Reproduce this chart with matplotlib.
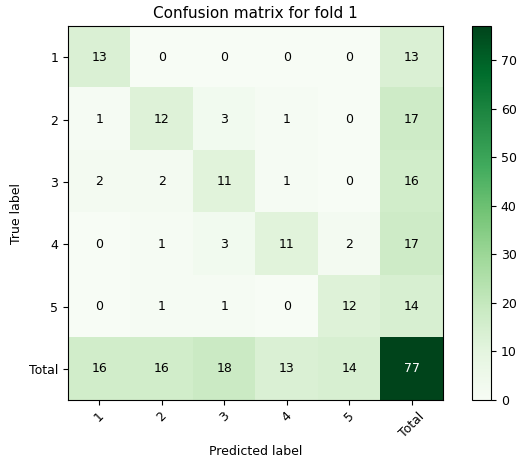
import matplotlib
matplotlib.use('Agg')
import matplotlib.pyplot as plt
import numpy as np

# Matriz de confusão do fold 1 (com linha/coluna de totais)
classes = ['1', '2', '3', '4', '5', 'Total']
cm = np.array([
    [13, 0, 0, 0, 0, 13],
    [1, 12, 3, 1, 0, 17],
    [2, 2, 11, 1, 0, 16],
    [0, 1, 3, 11, 2, 17],
    [0, 1, 1, 0, 12, 14],
    [16, 16, 18, 13, 14, 77],
])
titulo = 'Confusion matrix for fold 1'

fig = plt.figure(figsize=(5.17, 4.63), dpi=100)
ax = fig.add_axes([0.1315, 0.136, 0.7253, 0.8078])
cax = fig.add_axes([0.913, 0.136, 0.0368, 0.8078])

im = ax.imshow(cm, interpolation='nearest', cmap=plt.cm.Greens, aspect='auto')
ax.set_title(titulo, fontsize=11)
cb = fig.colorbar(im, cax=cax)
cb.set_ticks(np.arange(0, 80, 10))
cb.ax.tick_params(labelsize=9)

marcas = np.arange(len(classes))
ax.set_xticks(marcas)
ax.set_xticklabels(classes, rotation=45, fontsize=9)
ax.set_yticks(marcas)
ax.set_yticklabels(classes, fontsize=9)

# Escrevendo os valores nas células
limite = cm.max() / 2.
for i in range(cm.shape[0]):
    for j in range(cm.shape[1]):
        ax.text(j, i, format(cm[i, j], 'd'),
                ha='center', va='center', fontsize=9,
                color='white' if cm[i, j] > limite else 'black')

ax.set_ylabel('True label', fontsize=9)
ax.set_xlabel('Predicted label', fontsize=9)

fig.savefig('out.png', dpi=100)
